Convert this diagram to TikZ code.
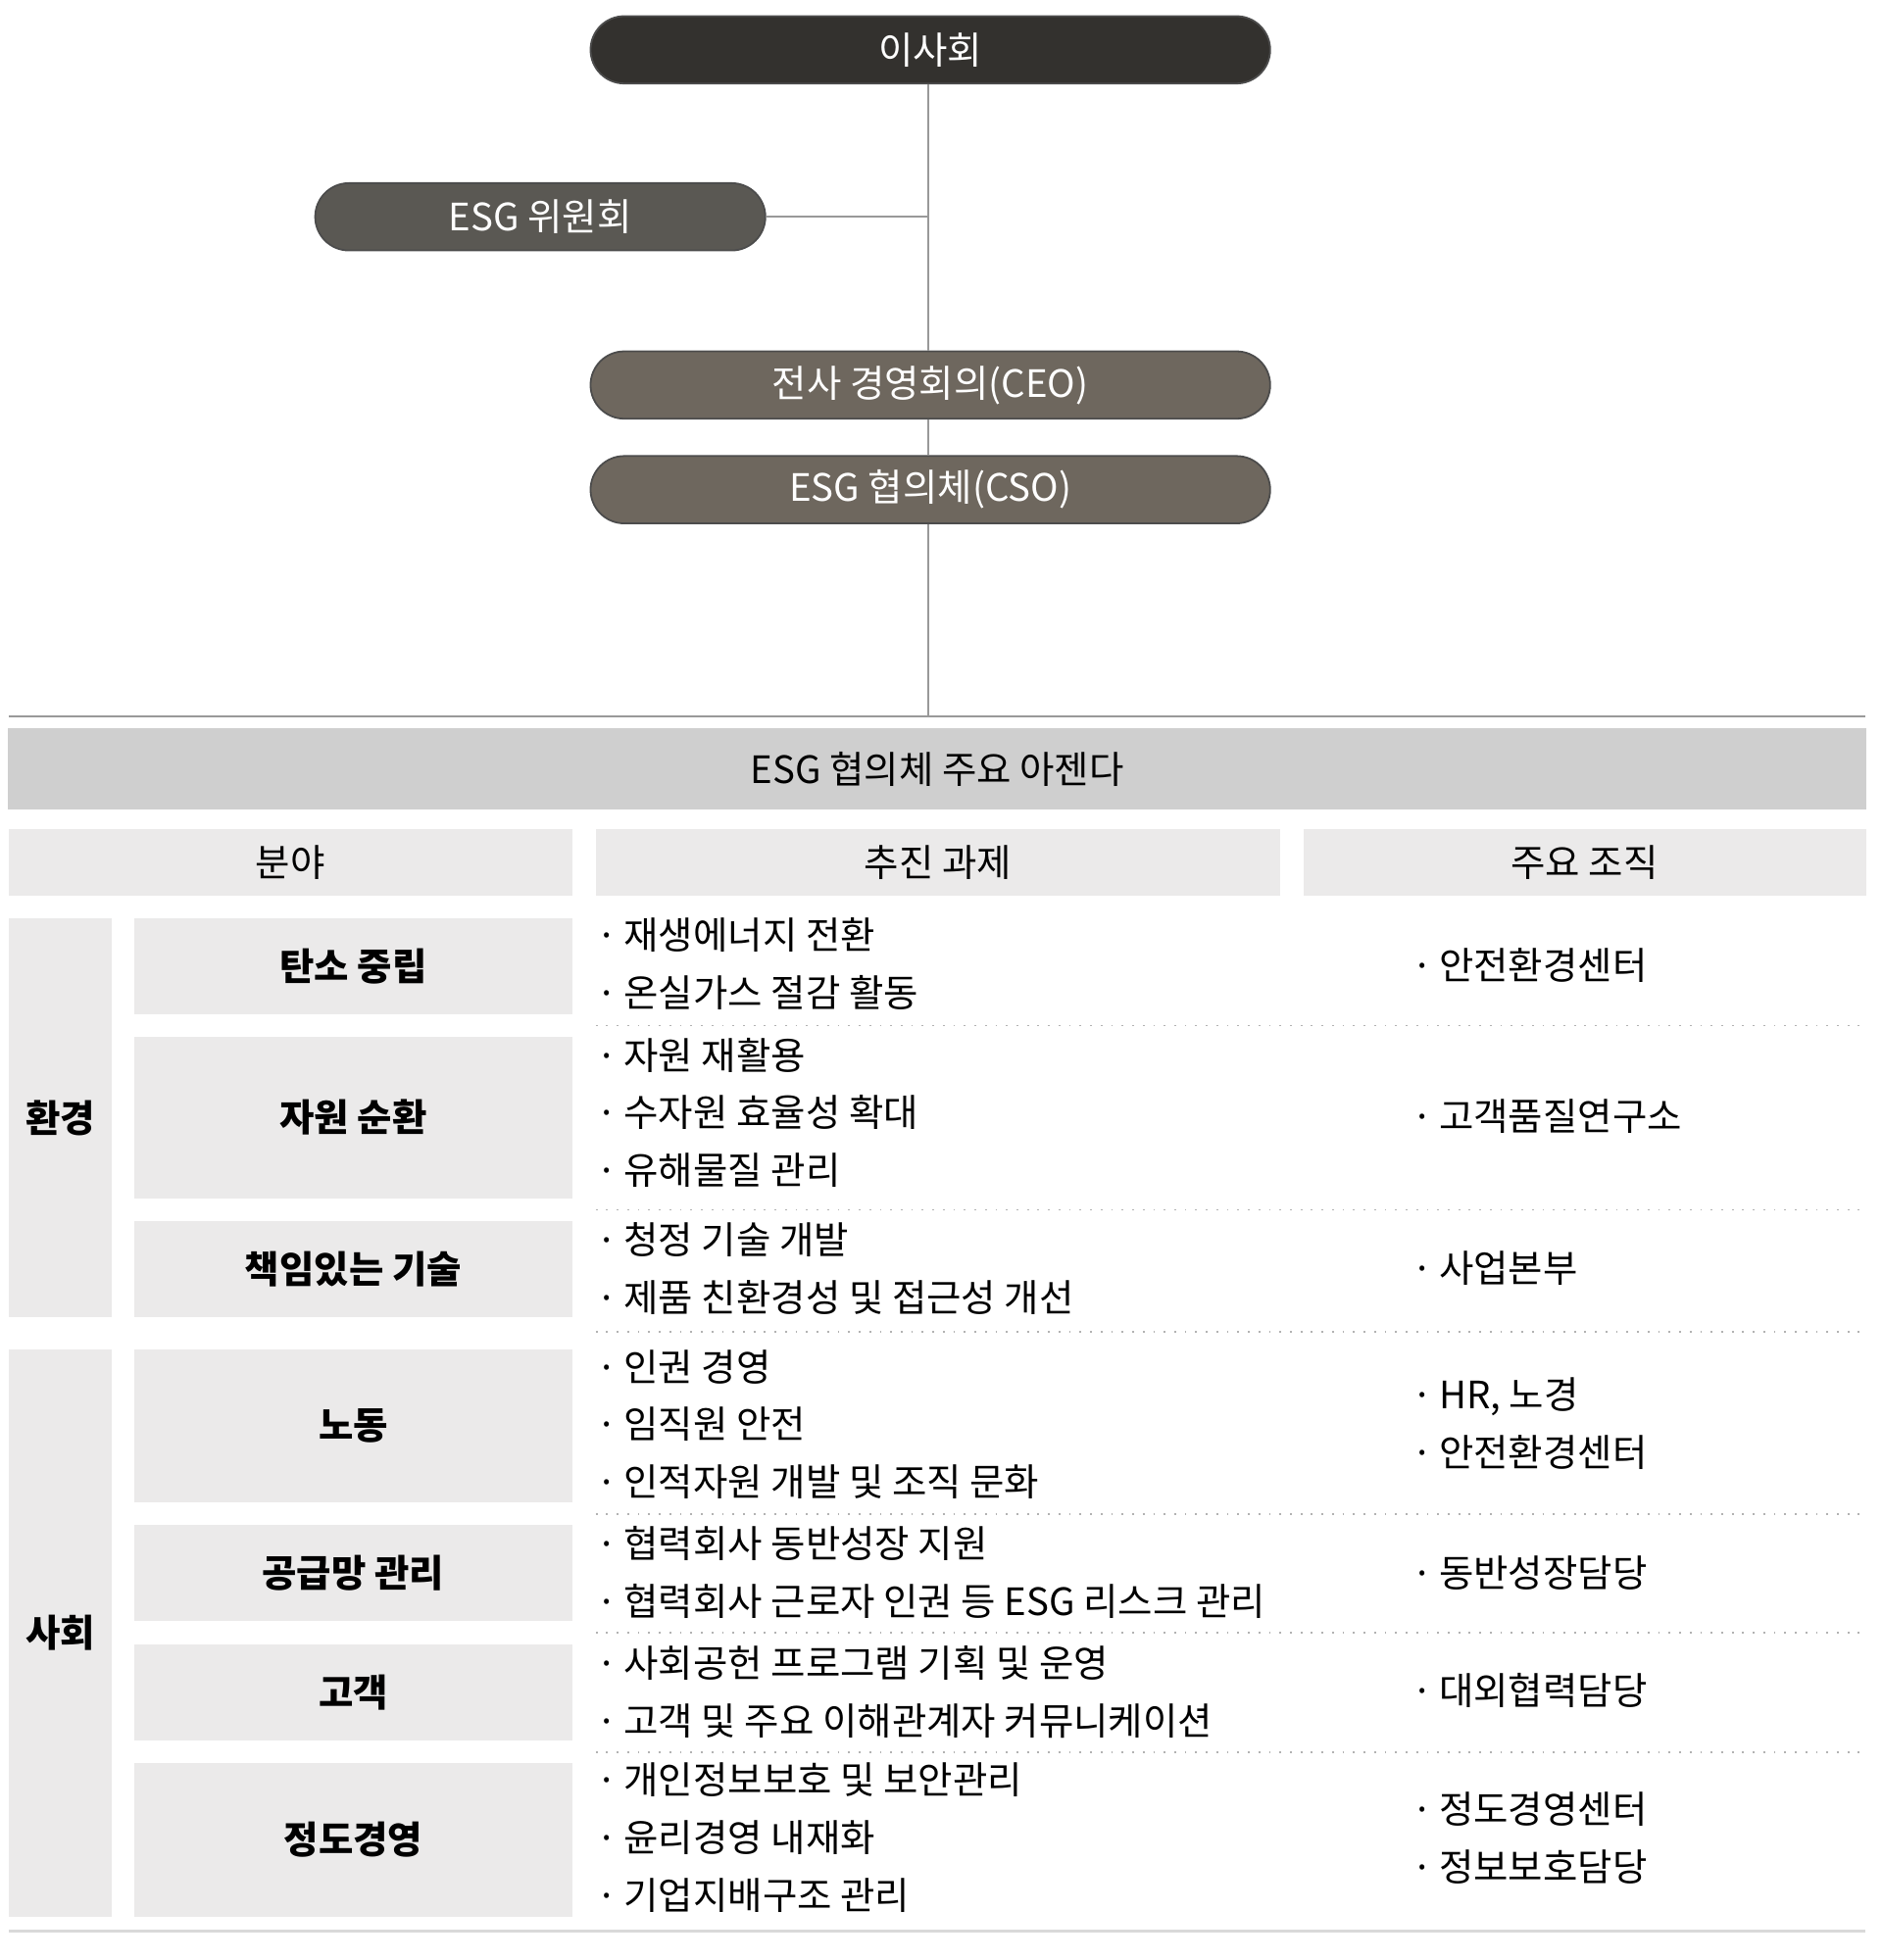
\documentclass[tikz,border=0pt]{standalone}
\usepackage{fontspec}
\setmainfont{Noto Sans CJK KR}
\definecolor{boardc}{HTML}{33312E}
\definecolor{comc}{HTML}{5A5853}
\definecolor{ceoc}{HTML}{6E675E}
\definecolor{bandc}{HTML}{CFCFCF}
\definecolor{cellc}{HTML}{EBEAEA}
\begin{document}
\begin{tikzpicture}[x=0.01cm,y=-0.01cm,font=\fontsize{8.6}{10}\selectfont,
  pill/.style={rounded corners=0.27cm,draw=black!70,text=white,inner sep=0pt},
  cell/.style={fill=cellc,inner sep=0pt},
  tline/.style={draw=black!40,line width=0.5pt},
  sep/.style={draw=black!30,dotted,line width=0.4pt},
  task/.style={anchor=west,inner sep=0pt},
  org/.style={anchor=west,inner sep=0pt}]
  \useasboundingbox (0,0) rectangle (1510,1573);

  % organisation
  \node [pill,fill=boardc,minimum width=5.45cm,minimum height=0.54cm] (board) at (746.5,40) {이사회};
  \node [pill,fill=comc,minimum width=3.61cm,minimum height=0.54cm] (esgc) at (433.5,174) {ESG 위원회};
  \node [pill,fill=ceoc,minimum width=5.45cm,minimum height=0.54cm] (ceo) at (746.5,309) {전사 경영회의(CEO)};
  \node [pill,fill=ceoc,minimum width=5.45cm,minimum height=0.54cm] (cso) at (746.5,393) {ESG 협의체(CSO)};
  \coordinate (bot) at (745,575);
  \coordinate (mid) at (745,174);
  \draw [tline] (board.south -| bot) -- (ceo.north -| bot);
  \draw [tline] (ceo.south -| bot) -- (cso.north -| bot);
  \draw [tline] (cso.south -| bot) -- (bot);
  \draw [tline] (esgc.east) -- (mid);
  \draw [tline] (7,575) -- (1497,575);

  % table head
  \node [fill=bandc,minimum width=14.9cm,minimum height=0.66cm,inner sep=0pt] (band) at (752,617) {ESG 협의체 주요 아젠다};
  \node [cell,minimum width=4.52cm,minimum height=0.54cm] (h1) at (233,692) {분야};
  \node [cell,minimum width=5.49cm,minimum height=0.54cm] (h2) at (752.5,692) {추진 과제};
  \node [cell,minimum width=4.51cm,minimum height=0.54cm] (h3) at (1271.5,692) {주요 조직};

  % areas
  \node [cell,minimum width=0.83cm,minimum height=3.20cm,font=\fontsize{8.6}{10}\selectfont\bfseries] (env) at (48.5,897) {환경};
  \node [cell,minimum width=0.83cm,minimum height=4.55cm,font=\fontsize{8.6}{10}\selectfont\bfseries] (soc) at (48.5,1310.5) {사회};

  \foreach \nm/\ya/\yb/\txt in {t1/737/814/탄소 중립, t2/832/962/자원 순환/관리, t3/980/1057/책임있는 기술,
      t4/1083/1206/노동/안전, t5/1224/1301/공급망 관리, t6/1320/1397/고객/대외 협력, t7/1415/1538/정도경영/준법경영}
    \node [cell,minimum width=3.51cm,minimum height={(\yb-\ya)*0.01cm},font=\fontsize{8.6}{10}\selectfont\bfseries] (\nm) at (283.5,{(\ya+\yb)/2}) {\txt};

  % tasks
  \foreach \y/\txt in {750/재생에너지 전환, 797/온실가스 절감 활동, 847/자원 재활용, 893/수자원 효율성 확대, 939/유해물질 관리,
      995/청정 기술 개발, 1041/제품 친환경성 및 접근성 개선, 1097/인권 경영, 1143/임직원 안전/보건, 1189/인적자원 개발 및 조직 문화,
      1239/협력회사 동반성장 지원, 1285/협력회사 근로자 인권 등 ESG 리스크 관리, 1335/사회공헌 프로그램 기획 및 운영,
      1381/고객 및 주요 이해관계자 커뮤니케이션, 1428/개인정보보호 및 보안관리, 1475/윤리경영 내재화, 1521/기업지배구조 관리}
    \node [task] at (478,\y) {·\,\txt};

  % organisations
  \foreach \y/\txt in {775/안전환경센터, 896/고객품질연구소, 1018/사업본부, 1121/{HR, 노경}, 1166/안전환경센터,
      1262/동반성장담당, 1357/대외협력담당, 1452/정도경영센터, 1498/정보보호담당}
    \node [org] at (1132,\y) {·\,\txt};

  \foreach \y in {823,971,1069,1215,1310,1406}
    \draw [sep] (478,\y) -- (1497,\y);
  \draw [draw=black!15,line width=0.6pt] (7,1550) -- (1497,1550);
\end{tikzpicture}
\end{document}
